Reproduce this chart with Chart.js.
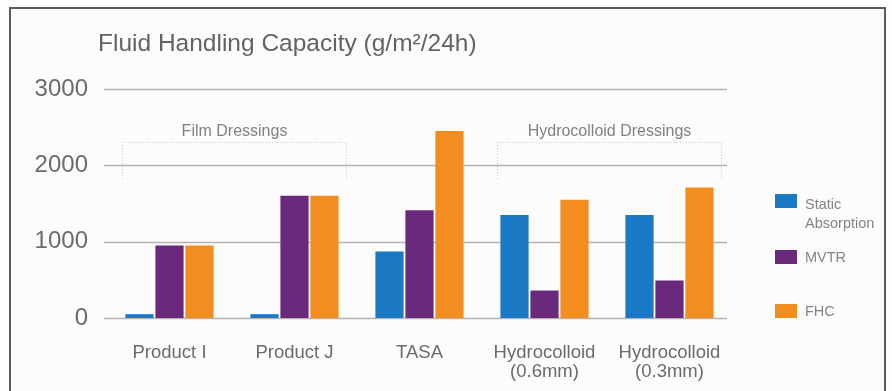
<!DOCTYPE html>
<html>
<head>
<meta charset="utf-8">
<script src="https://cdn.jsdelivr.net/npm/chart.js@4/dist/chart.umd.min.js"></script>
<style>
  html, body { margin: 0; padding: 0; background: #ffffff; }
  #wrap { position: relative; width: 892px; height: 391px; overflow: hidden; background: #fdfdfd; }
  #frame { position: absolute; left: 9px; top: 7px; width: 877px; height: 420px;
           border: 2px solid #5b5b5b; box-sizing: border-box; background: #fcfcfc; }
  canvas { position: absolute; left: 0; top: 0; }
</style>
</head>
<body>
<div id="wrap">
  <div id="frame"></div>
  <canvas id="chart" width="892" height="391"></canvas>
</div>
<script>
// Product categories (multi-line labels as arrays)
const categories = [
  'Product I',
  'Product J',
  'TASA',
  ['Hydrocolloid', '(0.6mm)'],
  ['Hydrocolloid', '(0.3mm)']
];

// Series values, g/m²/24h
const staticAbsorption = [50, 50, 870, 1350, 1350];
const mvtr             = [950, 1600, 1410, 360, 490];
const fhc              = [950, 1600, 2450, 1550, 1710];

const seriesNames = [['Static', 'Absorption'], ['MVTR'], ['FHC']];
const seriesColors = ['#1b79c4', '#6a2a7c', '#f28d20'];

const yTicks = [0, 1000, 2000, 3000];

const titleText = 'Fluid Handling Capacity (g/m²/24h)';

// Dressing groups spanning category indices
const groups = [
  { label: 'Film Dressings', from: 0, to: 1 },
  { label: 'Hydrocolloid Dressings', from: 3, to: 4 }
];

const FONT = '"Liberation Sans", Arial, sans-serif';

// Horizontal grid lines drawn behind the bars
const gridPlugin = {
  id: 'gridLines',
  beforeDatasetsDraw(chart) {
    const { ctx, chartArea, scales } = chart;
    ctx.save();
    ctx.strokeStyle = '#b9b0b0';
    ctx.lineWidth = 1.5;
    yTicks.forEach(v => {
      const y = Math.round(scales.y.getPixelForValue(v)) + 0.5;
      ctx.beginPath();
      ctx.moveTo(chartArea.left - 3, y);
      ctx.lineTo(chartArea.right - 5, y);
      ctx.stroke();
    });
    ctx.restore();
  }
};

// Title, group brackets and legend
const decorPlugin = {
  id: 'decor',
  afterDraw(chart) {
    const { ctx, scales } = chart;
    const x = scales.x, y = scales.y;
    ctx.save();

    // title
    ctx.fillStyle = '#636363';
    ctx.font = '24.5px ' + FONT;
    ctx.textAlign = 'left';
    ctx.textBaseline = 'middle';
    ctx.fillText(titleText, 98, 44);

    // group brackets: dotted open-bottom boxes
    const half = (x.getPixelForValue(1) - x.getPixelForValue(0)) / 2;
    const topY = y.getPixelForValue(2300);
    const botY = y.getPixelForValue(1820);
    groups.forEach(g => {
      const l = Math.round(x.getPixelForValue(g.from) - half + 15) + 0.5;
      const r = Math.round(x.getPixelForValue(g.to) + half - 11) + 0.5;
      ctx.strokeStyle = '#c8c4c4';
      ctx.lineWidth = 1;
      ctx.setLineDash([1, 2]);
      ctx.beginPath();
      ctx.moveTo(l, botY);
      ctx.lineTo(l, topY);
      ctx.lineTo(r, topY);
      ctx.lineTo(r, botY);
      ctx.stroke();
      ctx.setLineDash([]);
      ctx.fillStyle = '#858080';
      ctx.font = '16px ' + FONT;
      ctx.textAlign = 'center';
      ctx.textBaseline = 'middle';
      ctx.fillText(g.label, (l + r) / 2, topY - 11);
    });

    // legend
    const legendY = [201, 257, 311];
    chart.data.datasets.forEach((ds, i) => {
      const cy = legendY[i];
      ctx.fillStyle = ds.backgroundColor;
      ctx.fillRect(775, cy - 7, 22, 14);
      ctx.fillStyle = '#888383';
      ctx.font = '14.5px ' + FONT;
      ctx.textAlign = 'left';
      ctx.textBaseline = 'middle';
      seriesNames[i].forEach((line, k) => {
        ctx.fillText(line, 805, cy + (seriesNames[i].length > 1 ? 4 : 1) + k * 19);
      });
    });
    ctx.restore();
  }
};

new Chart(document.getElementById('chart'), {
  type: 'bar',
  data: {
    labels: categories,
    datasets: [
      { label: seriesNames[0].join(' '), data: staticAbsorption, backgroundColor: seriesColors[0] },
      { label: seriesNames[1].join(' '), data: mvtr, backgroundColor: seriesColors[1] },
      { label: seriesNames[2].join(' '), data: fhc, backgroundColor: seriesColors[2] }
    ]
  },
  options: {
    responsive: false,
    animation: false,
    devicePixelRatio: 1,
    layout: { padding: { top: 89, right: 160, left: 0, bottom: 0 } },
    datasets: {
      bar: { categoryPercentage: 0.72, barPercentage: 0.94, borderWidth: 0 }
    },
    plugins: {
      legend: { display: false },
      tooltip: { enabled: false }
    },
    scales: {
      x: {
        grid: { display: false, drawTicks: false },
        border: { display: false },
        ticks: {
          color: '#6e6a6a',
          font: { family: FONT, size: 18.5, lineHeight: 1.05 },
          padding: 25,
          maxRotation: 0,
          autoSkip: false
        },
        afterFit(s) { s.height = 73; }
      },
      y: {
        min: 0,
        max: 3000,
        grid: { display: false, drawTicks: false },
        border: { display: false },
        afterBuildTicks(s) { s.ticks = yTicks.map(v => ({ value: v })); },
        ticks: {
          color: '#6e6a6a',
          font: { family: FONT, size: 24 },
          padding: 19,
          callback: v => String(v)
        },
        afterFit(s) { s.width = 107; }
      }
    }
  },
  plugins: [gridPlugin, decorPlugin]
});
</script>
</body>
</html>
